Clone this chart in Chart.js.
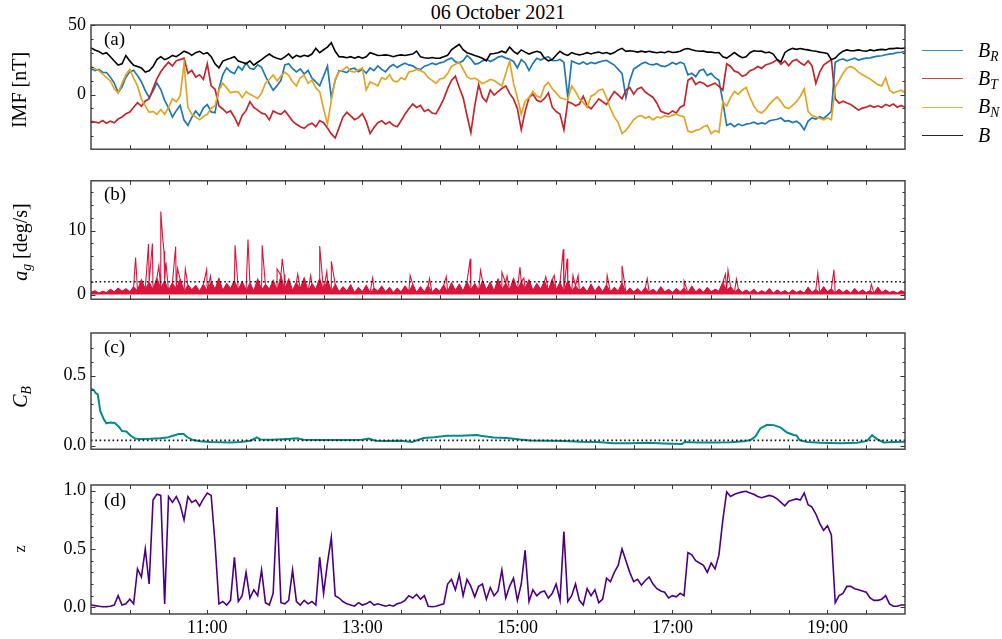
<!DOCTYPE html>
<html><head><meta charset="utf-8">
<script src="https://cdn.jsdelivr.net/npm/chart.js@4.4.1/dist/chart.umd.min.js"></script>
<style>
html,body{margin:0;padding:0;background:#fff;}
#wrap{position:relative;width:1002px;height:639px;overflow:hidden;font-family:'Liberation Serif','Times New Roman',serif;color:#000;}
canvas{position:absolute;left:0;}
.txt{position:absolute;white-space:nowrap;line-height:1;transform:translate(-50%,-50%);}
.ylab{position:absolute;white-space:nowrap;line-height:1;transform:translate(-50%,-50%) rotate(-90deg);font-size:20px;}
.plab{position:absolute;font-size:19px;line-height:1;transform:translateY(-50%);}
.legline{position:absolute;left:922px;width:41px;height:0;border-top:1.5px solid;opacity:0.85;}
.legtxt{position:absolute;left:978px;font-size:20px;font-style:italic;line-height:1;transform:translateY(-55%);white-space:nowrap;}
sub{font-size:68%;vertical-align:-0.3em;line-height:0;}
</style></head>
<body><div id="wrap">
<div class="txt" style="left:498px;top:12px;font-size:20px;">06 October 2021</div>
<canvas id="cA" width="1002" height="165" style="top:0px"></canvas>
<canvas id="cB" width="1002" height="150" style="top:165px"></canvas>
<canvas id="cC" width="1002" height="150" style="top:315px"></canvas>
<canvas id="cD" width="1002" height="174" style="top:465px"></canvas>
<div class="ylab" style="left:19px;top:90px;">IMF [nT]</div>
<div class="ylab" style="left:20px;top:242px;"><i>a</i><sub><i>g</i></sub> [deg/s]</div>
<div class="ylab" style="left:20px;top:397px;"><i>C</i><sub><i>B</i></sub></div>
<div class="ylab" style="left:20px;top:549px;font-size:16px;">z</div>
<div class="plab" style="left:104px;top:38px;">(a)</div>
<div class="plab" style="left:104px;top:193px;">(b)</div>
<div class="plab" style="left:104px;top:346px;">(c)</div>
<div class="plab" style="left:104px;top:499px;">(d)</div>
<div id="legend"></div>
</div>
<script>
// ---------- data ----------
const T0 = 9.5, DT = 0.05; // start 09:30, 3-minute samples (hours)
const BR = [18.6,17.2,18.1,16.0,15.8,12.5,8.2,1.5,5.5,12.4,
16.3,17.5,13.6,9.2,2.8,-2.1,2.4,8.3,3.6,-4.2,
-9.5,-16.2,-11.6,-7.8,-18.4,-22.1,-16.5,-11.8,-15.3,-9.6,
-7.2,-12.5,-13.1,4.2,14.3,19.2,16.4,15.1,20.3,17.6,
22.8,18.9,18.2,21.4,19.6,13.2,7.8,3.1,6.4,10.2,
21.3,22.1,18.6,16.2,18.4,14.7,17.3,11.8,9.1,6.3,
13.2,20.4,-2.1,10.3,17.2,16.6,15.8,18.4,18.9,16.5,
18.2,15.3,19.1,17.2,20.6,18.1,16.3,19.8,21.6,19.4,
21.2,22.5,21.3,20.6,18.7,17.9,20.4,21.2,22.6,21.5,
22.8,23.4,25.1,26.3,23.6,22.8,24.3,28.1,25.7,21.9,
22.4,24.2,25.3,23.8,25.1,26.9,27.6,26.2,25.3,23.8,
19.2,25.1,22.7,17.3,22.4,26.1,24.8,26.3,27.2,24.6,
24.3,25.2,23.1,-2.0,24.1,22.8,21.9,23.4,21.7,23.1,
22.2,23.3,24.1,24.6,22.8,21.2,18.1,15.2,-2.2,10.1,
18.3,20.2,22.1,23.2,21.8,21.3,22.2,20.6,20.1,21.3,
23.1,21.8,23.2,22.1,14.2,15.3,12.8,17.1,18.2,13.8,
15.2,12.1,10.3,-5.1,-22.3,-20.8,-23.1,-21.2,-22.4,-21.3,
-20.8,-19.9,-21.2,-20.4,-21.1,-18.9,-18.3,-17.8,-16.9,-19.2,
-18.8,-20.1,-19.2,-21.3,-25.4,-19.1,-16.8,-17.6,-15.9,-17.2,
-14.8,-12.1,23.2,24.8,25.6,24.3,25.2,26.1,24.8,25.6,
26.2,26.4,27.1,27.6,27.9,28.6,29.1,29.4,30.2,30.4,31.1];
const BT = [-19.2,-19.8,-20.4,-18.7,-20.6,-19.1,-20.3,-17.6,-16.2,-13.8,
-12.6,-9.1,-5.8,-8.4,-4.6,-3.2,4.3,11.2,16.4,20.1,
23.2,20.6,24.3,25.1,26.2,15.3,17.4,12.6,14.2,10.8,
22.1,6.3,3.8,-8.2,-10.4,-13.1,-11.8,-16.3,-22.2,-15.1,
-11.6,-5.2,-9.3,-11.2,-13.4,-14.1,-18.2,-11.8,-13.3,-14.2,
-11.7,-15.3,-19.1,-21.4,-23.2,-24.3,-21.8,-20.6,-23.1,-18.7,
-20.2,-24.1,-28.3,-31.2,-23.8,-16.2,-12.8,-15.3,-18.1,-16.6,
-13.8,-19.3,-28.1,-23.7,-20.2,-18.8,-21.3,-19.6,-22.1,-23.2,
-18.8,-14.1,-10.2,-6.8,-9.3,-7.8,-12.2,-10.8,-13.3,-13.9,
-8.8,-3.1,4.2,10.1,13.2,5.1,-2.2,-15.1,-27.3,-8.2,
7.1,-2.2,-5.1,3.2,-0.4,2.1,4.3,6.2,0.8,-3.2,
-10.1,-25.2,-12.1,-2.2,0.3,-4.1,-5.2,-2.8,1.2,-9.1,
-12.2,-14.1,-25.3,-5.1,-6.2,-8.1,-6.8,-1.2,-8.1,-10.2,
-6.8,-3.1,-5.2,-7.1,-2.2,2.1,-0.2,-3.1,3.2,5.1,
0.2,4.1,5.2,1.8,-0.2,-2.1,-6.2,-12.1,-13.2,-14.1,
-11.8,-13.2,-9.1,-7.8,10.2,12.1,7.2,9.1,8.2,5.8,
7.1,8.2,5.8,3.1,22.1,20.2,16.8,15.9,13.1,14.2,
17.1,18.2,20.1,18.8,21.2,22.1,23.2,25.1,21.8,24.2,
20.8,24.1,25.2,22.8,21.1,24.2,20.8,8.1,16.2,21.1,
23.2,25.1,-3.1,-6.2,-4.8,-6.1,-7.2,-9.1,-11.2,-9.8,
-9.1,-7.8,-9.2,-8.1,-9.3,-7.1,-8.2,-6.8,-9.1,-7.9,-9.2];
const BN = [20.1,18.8,17.2,14.8,12.2,9.8,4.1,1.2,8.1,14.2,
18.1,11.8,6.2,-3.1,-8.2,-12.8,-12.1,-14.2,-10.8,-14.1,
-9.2,-3.1,-5.2,-0.8,22.1,-9.2,-14.1,-16.2,-18.1,-15.8,
-14.2,-9.8,-8.1,3.2,8.1,4.8,1.2,2.1,1.8,-2.2,
2.1,0.2,-1.2,-2.8,1.1,8.2,10.8,14.1,9.8,13.2,
16.1,13.8,9.2,6.1,12.2,13.8,8.1,10.2,4.8,2.1,
-10.2,-21.1,-4.2,11.1,16.2,17.8,20.1,16.8,16.2,17.9,
19.1,3.2,9.1,7.8,6.2,12.1,10.8,14.2,9.8,9.2,
12.1,10.8,16.2,16.8,18.1,17.2,15.8,12.1,10.2,8.1,
11.2,11.8,15.1,20.2,21.8,23.1,18.2,12.8,11.2,11.8,
10.1,7.8,9.2,10.8,10.1,8.1,6.2,15.1,24.1,8.2,
-2.1,-14.2,-4.8,-2.1,2.2,-1.1,-2.2,6.1,8.8,4.1,
1.2,-2.1,-3.2,-3.8,6.1,2.2,-3.1,-5.8,-9.1,-1.2,
0.2,3.1,3.8,-2.1,-10.2,-16.1,-20.2,-28.1,-25.8,-22.1,
-18.2,-15.8,-15.2,-17.1,-15.8,-18.2,-16.1,-16.8,-15.2,-16.1,
-14.8,-14.1,-15.2,-16.1,-26.2,-27.1,-25.8,-25.1,-23.2,-22.1,
-28.1,-25.8,-27.2,-5.1,-8.2,-2.1,2.2,0.1,3.1,5.2,
-2.1,-8.2,-12.1,-13.2,-10.8,-7.1,-4.2,-1.8,-5.1,-9.2,
-10.1,-7.8,-5.1,-1.2,4.1,-12.2,-15.1,-16.2,-17.1,-18.2,
-16.8,-18.1,5.2,10.1,15.2,19.1,20.2,18.8,16.1,14.2,
12.8,11.1,9.2,7.1,6.2,12.1,3.2,1.1,2.2,3.1,1.2];
const BMAG = [33.5,32.1,31.0,29.2,30.1,27.2,24.1,21.2,22.1,28.1,
24.2,21.1,20.2,19.1,16.2,17.1,20.2,25.1,27.2,25.1,
26.2,28.1,27.2,29.1,31.2,30.1,28.2,30.1,31.1,29.2,
30.1,27.2,22.1,19.2,24.1,25.2,26.1,27.2,24.1,23.2,
22.1,24.2,21.1,23.2,25.1,27.2,29.1,27.2,26.1,25.2,
27.1,29.2,26.1,28.2,27.1,28.2,27.5,29.1,33.2,30.1,
32.2,34.1,37.2,31.1,27.2,27.1,26.5,27.2,26.1,27.2,
26.1,27.2,30.1,29.2,28.1,28.2,28.5,28.1,27.2,28.1,
28.5,28.1,28.6,29.1,31.2,27.1,26.5,26.1,26.6,26.1,
26.2,27.1,28.2,32.1,34.2,36.1,32.2,30.1,29.2,28.1,
27.2,26.1,24.2,29.1,29.5,30.1,31.2,30.1,34.2,31.1,
29.2,32.1,30.5,29.1,30.2,31.1,30.2,26.1,24.2,25.1,
28.2,31.1,29.2,28.1,30.2,29.1,28.5,29.2,30.1,29.2,
30.1,30.5,29.5,30.2,29.1,30.2,32.1,33.2,31.1,31.5,
31.1,30.5,31.2,30.5,31.1,30.5,30.1,30.6,30.1,31.1,
30.2,30.5,31.1,32.5,33.1,32.2,31.5,31.1,31.2,30.5,
30.5,30.1,30.2,27.1,26.2,28.1,30.2,28.1,26.5,27.2,
30.1,31.5,31.1,31.2,30.1,30.5,29.1,25.2,23.5,30.1,
32.1,33.2,32.5,33.1,32.5,32.1,31.5,31.1,30.5,30.1,
29.5,25.1,26.2,29.1,31.2,32.1,31.5,31.6,32.1,31.5,
31.1,32.1,31.5,32.1,32.5,32.1,33.1,33.0,33.5,33.1,33.5];
// a_g: 3-minute base samples + isolated spikes (minutes after 09:30)
const agBase = [0.3,0.6,0.2,0.5,0.3,0.8,0.4,1.0,0.5,0.9,
0.4,1.2,0.6,2.3,0.8,2.0,0.7,2.6,1.0,2.2,
0.6,1.8,0.9,2.4,0.5,1.5,0.7,1.4,0.5,1.6,
0.6,2.0,0.8,2.5,0.6,1.7,0.9,2.2,0.7,2.0,
0.6,1.8,0.5,2.4,0.7,1.6,0.8,2.2,0.6,3.0,
0.7,2.4,0.6,1.9,0.9,2.6,0.5,1.7,0.8,2.5,
0.6,2.3,0.5,1.6,0.4,1.2,0.5,1.5,0.3,1.1,
0.4,1.4,0.3,1.0,0.5,1.3,0.4,1.1,0.3,1.0,
0.4,1.3,0.5,1.6,0.3,1.2,0.4,1.4,0.3,1.0,
0.5,1.5,0.4,1.8,0.6,1.6,0.5,2.0,0.7,1.7,
0.6,2.2,0.7,1.9,0.5,2.4,0.8,1.8,0.6,2.5,
0.7,2.0,0.9,2.3,0.6,1.7,0.8,2.1,0.6,2.4,
0.7,1.9,0.6,2.2,0.5,1.4,0.6,1.2,0.4,1.6,
0.5,1.3,0.4,1.5,0.4,1.1,0.5,1.8,0.3,1.0,
0.4,0.9,0.3,1.1,0.4,0.8,0.3,1.2,0.4,0.8,
0.3,0.9,0.4,1.0,0.3,1.3,0.4,0.9,0.3,1.1,
0.4,0.8,0.5,1.9,0.7,1.2,0.4,0.9,0.3,0.7,
0.3,0.8,0.2,0.6,0.3,0.9,0.2,0.7,0.3,0.6,
0.2,0.7,0.3,0.6,0.2,1.1,0.3,0.8,0.3,1.2,
0.4,0.9,0.3,0.8,0.3,0.7,0.2,0.9,0.3,0.7,
0.3,0.6,0.2,1.1,0.3,0.7,0.3,0.5,0.2,0.6,0.3];
const agSpikeMin = [34.5,44.5,47.5,52.5,54,55.5,56.5,58,65.5,67,73,89.5,92.5,111.5,121.5,132.5,134,144,148,149.5,160,170,177,182.5,186,218,247,262,275,293.5,301.5,318,322,332,335,352,358.5,365.5,368.5,373,377,399.5,411,430.5,459,491,493,499.5,562.5,575,604];
const agSpikeVal = [5.8,7.9,8.0,4.5,13.0,8.8,6.8,5.0,7.5,4.1,4.0,3.9,2.9,7.7,8.6,7.7,3.9,4.0,5.6,3.1,3.2,3.0,7.6,3.6,5.2,2.6,3.0,2.5,2.8,5.6,3.8,3.5,2.9,4.3,2.6,2.8,3.0,7.1,5.6,3.0,3.0,3.0,4.5,2.5,2.1,3.2,3.8,2.4,3.4,3.9,1.6];
const agThreshold = 2;
// C_B: minutes after 09:30 and values
const cbMin = [0,2.1,3.4,5.2,7.2,9.8,11.9,15,18.3,21.4,24,27.4,30.5,34.3,38.2,45.9,53.7,58.8,64,67.9,71.7,74.3,79,84.6,92.4,100,108,115.6,123.4,128.5,131,138.8,147.9,154.3,159.5,164.6,177.5,187.9,200.8,209.8,215,220,229,239.5,248.5,257.5,265.3,275.6,286,298.8,301.4,311.7,322,332.3,340,353,366,378.8,391.7,404.6,417.5,430.4,443.3,457.5,459.3,469,482,494.9,505.2,510.3,514.2,518,523.2,528.4,533.5,538.7,543.9,546,548.5,554.2,564.5,580,592.9,600.6,604.5,608.4,613.5,621.3,630];
const cbVal = [0.404,0.398,0.376,0.365,0.246,0.19,0.159,0.165,0.161,0.137,0.104,0.1,0.072,0.05,0.046,0.048,0.052,0.057,0.072,0.083,0.083,0.061,0.039,0.03,0.026,0.024,0.022,0.026,0.035,0.059,0.043,0.041,0.045,0.048,0.052,0.041,0.04,0.04,0.04,0.041,0.05,0.035,0.033,0.035,0.026,0.054,0.059,0.07,0.07,0.076,0.07,0.057,0.054,0.043,0.037,0.035,0.033,0.028,0.026,0.017,0.017,0.02,0.015,0.011,0.026,0.022,0.022,0.024,0.03,0.039,0.065,0.122,0.148,0.146,0.13,0.093,0.076,0.072,0.039,0.026,0.02,0.017,0.02,0.033,0.074,0.046,0.022,0.026,0.028];
const cbThreshold = 0.037;
const zVal = [0.02,0.015,0.01,0.005,0.006,0.01,0.02,0.1,0.02,0.03,
0.07,0.03,0.33,0.26,0.5,0.2,0.92,0.97,0.96,0.03,
0.95,0.9,0.95,0.88,0.75,0.95,0.9,0.92,0.87,0.93,
0.98,0.96,0.55,0.03,0.05,0.02,0.06,0.43,0.05,0.1,
0.3,0.08,0.15,0.1,0.32,0.04,0.02,0.12,0.86,0.04,
0.03,0.06,0.32,0.05,0.02,0.06,0.03,0.05,0.02,0.43,
0.12,0.38,0.6,0.1,0.08,0.05,0.03,0.02,0.01,0.04,
0.02,0.03,0.05,0.02,0.03,0.02,0.01,0.02,0.01,0.03,
0.04,0.06,0.1,0.08,0.11,0.07,0.1,0.01,0.005,0.01,
0.02,0.03,0.2,0.24,0.15,0.28,0.1,0.24,0.18,0.09,
0.18,0.2,0.07,0.17,0.1,0.14,0.32,0.08,0.18,0.25,
0.06,0.2,0.49,0.05,0.15,0.1,0.13,0.14,0.08,0.12,
0.2,0.06,0.65,0.05,0.1,0.2,0.06,0.02,0.16,0.1,
0.15,0.04,0.07,0.25,0.22,0.3,0.36,0.5,0.4,0.3,
0.22,0.24,0.19,0.23,0.26,0.2,0.16,0.14,0.13,0.08,
0.1,0.09,0.12,0.1,0.47,0.45,0.4,0.38,0.36,0.3,
0.38,0.33,0.45,0.75,0.99,0.95,0.97,0.98,0.99,0.995,
0.98,0.97,0.95,0.94,0.95,0.96,0.95,0.93,0.9,0.87,
0.91,0.92,0.93,0.92,0.98,0.88,0.86,0.8,0.72,0.66,
0.7,0.62,0.04,0.1,0.12,0.18,0.18,0.16,0.15,0.14,
0.13,0.08,0.06,0.06,0.07,0.1,0.03,0.01,0.01,0.02,0.02];
// axes
const xRange = [9.5, 20];
const xLabelHours = [11, 13, 15, 17, 19];
const xMinorTicks = [10,10.5,11,11.5,12,12.5,13,13.5,14,14.5,15,15.5,16,16.5,17,17.5,18,18.5,19,19.5];
const legendNames = [['B','R'],['B','T'],['B','N'],['B','']];
const colors = {BR:'#1f77b4', BT:'#c3262b', BN:'#e0a526', B:'#000000', ag:'#dc143c', cb:'#008b8b', z:'#4b0082'};

// ---------- build ----------
Chart.defaults.font.family = "'Liberation Serif','Times New Roman',serif";
Chart.defaults.color = '#000';
const times = BR.map((_, i) => T0 + i * DT);
const pts = vals => vals.map((v, i) => ({x: times[i], y: v}));
const minPts = (mins, vals) => mins.map((m, i) => ({x: T0 + m / 60, y: vals[i]}));
const agPts = pts(agBase).concat(minPts(agSpikeMin, agSpikeVal)).sort((a, b) => a.x - b.x);
const hLine = v => [{x: xRange[0], y: v}, {x: xRange[1], y: v}];

const frameTicks = {
  id: 'frameTicks',
  afterDatasetsDraw(chart, args, opts) {
    const {ctx, chartArea: a} = chart;
    const x = chart.scales.x, y = chart.scales.y;
    ctx.save();
    ctx.strokeStyle = '#333';
    ctx.lineWidth = 1;
    ctx.beginPath();
    for (const v of opts.xTicks) {
      const p = Math.round(x.getPixelForValue(v)) + 0.5;
      ctx.moveTo(p, a.bottom); ctx.lineTo(p, a.bottom - 4);
      ctx.moveTo(p, a.top); ctx.lineTo(p, a.top + 4);
    }
    const yt = (list, len) => {
      for (const v of list) {
        const p = Math.round(y.getPixelForValue(v)) + 0.5;
        ctx.moveTo(a.left, p); ctx.lineTo(a.left + len, p);
        ctx.moveTo(a.right, p); ctx.lineTo(a.right - len, p);
      }
    };
    yt(opts.yMajor, 4.5);
    yt(opts.yMinor, 2.5);
    ctx.stroke();
    ctx.lineWidth = 1.4;
    ctx.strokeStyle = '#3a3a3a';
    ctx.strokeRect(a.left, a.top, a.right - a.left, a.bottom - a.top);
    ctx.restore();
  }
};

function makeChart(id, datasets, cfg) {
  return new Chart(document.getElementById(id), {
    type: 'line',
    data: {datasets},
    options: {
      responsive: false, animation: false, events: [],
      layout: {padding: {top: cfg.padTop, bottom: cfg.padBottom, left: 0, right: 97}},
      plugins: {legend: {display: false}, tooltip: {enabled: false},
        frameTicks: {xTicks: xMinorTicks, yMajor: cfg.yMajor, yMinor: cfg.yMinor}},
      elements: {point: {radius: 0}, line: {tension: 0}},
      scales: {
        x: {type: 'linear', min: xRange[0], max: xRange[1],
          grid: {display: false, drawTicks: false}, border: {display: false},
          afterBuildTicks: s => { s.ticks = xLabelHours.map(v => ({value: v})); },
          ticks: {display: cfg.showX, padding: 3, font: {size: 18}, maxRotation: 0, autoSkip: false,
            callback: v => v + ':00'},
          afterFit: s => { s.height = cfg.showX ? 25 : 0; }},
        y: {type: 'linear', min: cfg.yMin, max: cfg.yMax,
          grid: {display: false, drawTicks: false}, border: {display: false},
          afterBuildTicks: s => { s.ticks = cfg.yMajor.map(v => ({value: v})); },
          ticks: {padding: 5, font: {size: 18}, autoSkip: false, callback: cfg.fmt},
          afterFit: s => { s.width = 91; }}
      }
    },
    plugins: [frameTicks]
  });
}
const line = (data, color, w, extra) => Object.assign({data, borderColor: color, borderWidth: w, pointRadius: 0, fill: false}, extra || {});
const dotted = v => line(hLine(v), '#111', 1.6, {borderDash: [1.6, 2.7]});

makeChart('cA', [
  line(pts(BR), colors.BR, 1.7, {order: 4, label: 'B_R'}),
  line(pts(BT), colors.BT, 1.7, {order: 3, label: 'B_T'}),
  line(pts(BN), colors.BN, 1.7, {order: 2, label: 'B_N'}),
  line(pts(BMAG), colors.B, 1.6, {order: 1, label: 'B'})
], {padTop: 25, padBottom: 12, yMin: -39.3, yMax: 50, yMajor: [0, 50], yMinor: [-30,-20,-10,10,20,30,40], fmt: v => String(v), showX: false});

makeChart('cB', [
  dotted(agThreshold),
  line(agPts, colors.ag, 1.1, {order: 2}),
  line(pts(agBase), colors.ag, 1, {order: 3, fill: 'origin', backgroundColor: colors.ag})
], {padTop: 14, padBottom: 8, yMin: -0.72, yMax: 17.8, yMajor: [0, 10], yMinor: [2,4,6,8,12,14,16], fmt: v => String(v), showX: false});

makeChart('cC', [
  dotted(cbThreshold),
  line(minPts(cbMin, cbVal), colors.cb, 2, {order: 2})
], {padTop: 18, padBottom: 5, yMin: -0.026, yMax: 0.804, yMajor: [0, 0.5], yMinor: [0.1,0.2,0.3,0.4,0.6,0.7], fmt: v => v.toFixed(1), showX: false});

makeChart('cD', [
  line(pts(zVal), colors.z, 1.6)
], {padTop: 20, padBottom: 0, yMin: -0.057, yMax: 1.049, yMajor: [0, 0.5, 1], yMinor: [0.1,0.2,0.3,0.4,0.6,0.7,0.8,0.9], fmt: v => v.toFixed(1), showX: true});

// legend (outside plot, right of panel a)
const legY = [50.7, 79, 107.3, 136];
const legColors = [colors.BR, colors.BT, colors.BN, colors.B];
const leg = document.getElementById('legend');
legendNames.forEach((n, i) => {
  const l = document.createElement('div');
  l.className = 'legline';
  l.style.top = (legY[i] - 0.75) + 'px';
  l.style.borderTopColor = legColors[i];
  leg.appendChild(l);
  const t = document.createElement('div');
  t.className = 'legtxt';
  t.style.top = legY[i] + 'px';
  t.innerHTML = n[0] + (n[1] ? '<sub>' + n[1] + '</sub>' : '');
  leg.appendChild(t);
});
</script>
</body></html>
